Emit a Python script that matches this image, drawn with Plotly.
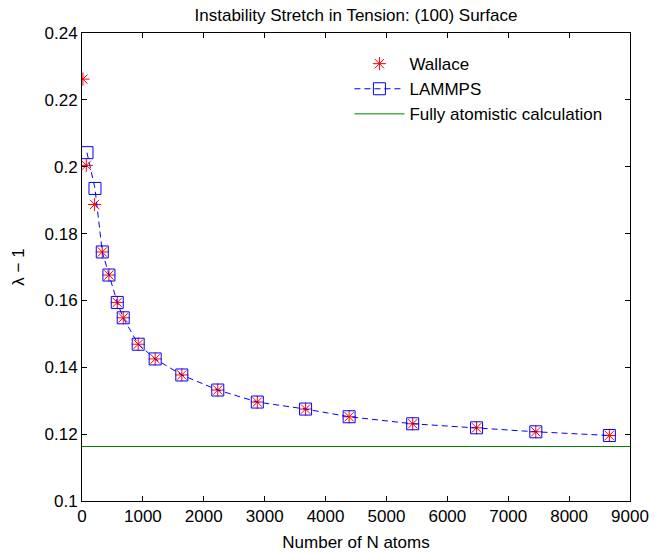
import plotly.graph_objects as go

wallace_x = [15, 70, 207, 333, 442, 579, 677, 923, 1202, 1639, 2230, 2879, 3672, 4387, 5431, 6480, 7453, 8661]
wallace_y = [0.2262, 0.2004, 0.1887, 0.1745, 0.1676, 0.1594, 0.1548, 0.1469, 0.1425, 0.1377,
             0.1332, 0.1296, 0.1275, 0.1252, 0.1231, 0.1219, 0.1207, 0.1196]
lammps_x = [82, 213, 333, 442, 579, 677, 923, 1202, 1639, 2230, 2879, 3672, 4387, 5431, 6480, 7453, 8661]
lammps_y = [0.2042, 0.1935, 0.1745, 0.1676, 0.1594, 0.1548, 0.1469, 0.1425, 0.1377,
            0.1332, 0.1296, 0.1275, 0.1252, 0.1231, 0.1219, 0.1207, 0.1196]
atomistic_x = [0, 9000]
atomistic_y = [0.1163, 0.1163]

x_ticks = [0, 1000, 2000, 3000, 4000, 5000, 6000, 7000, 8000, 9000]
y_ticks = [0.1, 0.12, 0.14, 0.16, 0.18, 0.2, 0.22, 0.24]
y_ticklabels = ["0.1", "0.12", "0.14", "0.16", "0.18", "0.2", "0.22", "0.24"]

FONT = "Liberation Sans, Arial, sans-serif"
FS = 17

fig = go.Figure()
fig.add_trace(go.Scatter(
    x=wallace_x, y=wallace_y, mode="markers", name="Wallace",
    marker=dict(symbol="asterisk-open", size=11, color="#ff0000",
                line=dict(color="#ff0000", width=1)),
))
fig.add_trace(go.Scatter(
    x=lammps_x, y=lammps_y, mode="lines+markers", name="LAMMPS",
    line=dict(color="#0000ff", width=1, dash="6px,4px"),
    marker=dict(symbol="square-open", size=12, color="#0000ff",
                line=dict(color="#0000ff", width=1)),
))
fig.add_trace(go.Scatter(
    x=atomistic_x, y=atomistic_y, mode="lines", name="Fully atomistic calculation",
    line=dict(color="#008000", width=1),
))

axis_common = dict(
    showline=True, linecolor="black", linewidth=1, mirror="ticks",
    ticks="inside", ticklen=5, tickcolor="black", showgrid=False, zeroline=False,
    automargin=False,
    tickfont=dict(family=FONT, size=FS, color="black"),
)

fig.update_layout(
    width=664, height=552,
    margin=dict(l=82, r=34, t=33, b=51),
    paper_bgcolor="white", plot_bgcolor="white",
    font=dict(family=FONT, size=FS, color="black"),
    title=dict(text="Instability Stretch in Tension: (100) Surface",
               x=(82 + 630) / 2 / 664, xanchor="center",
               y=1 - 15 / 552, yanchor="middle",
               font=dict(family=FONT, size=FS, color="black")),
    xaxis=dict(range=[0, 9000], tickvals=x_ticks,
               title=dict(text="Number of N atoms",
                          font=dict(family=FONT, size=FS)),
               **axis_common),
    yaxis=dict(range=[0.1, 0.24], tickvals=y_ticks, ticktext=y_ticklabels,
               title=dict(text="λ − 1",
                          font=dict(family=FONT, size=FS)),
               **axis_common),
    legend=dict(x=0.488, y=0.972, xanchor="left", yanchor="top",
                bgcolor="rgba(0,0,0,0)", borderwidth=0,
                font=dict(family=FONT, size=FS, color="black"),
                itemwidth=50),
    showlegend=True,
)

fig.write_html("out.html",
               config={"displayModeBar": False},
               post_script="document.body.style.margin='0';document.body.style.padding='0';")
